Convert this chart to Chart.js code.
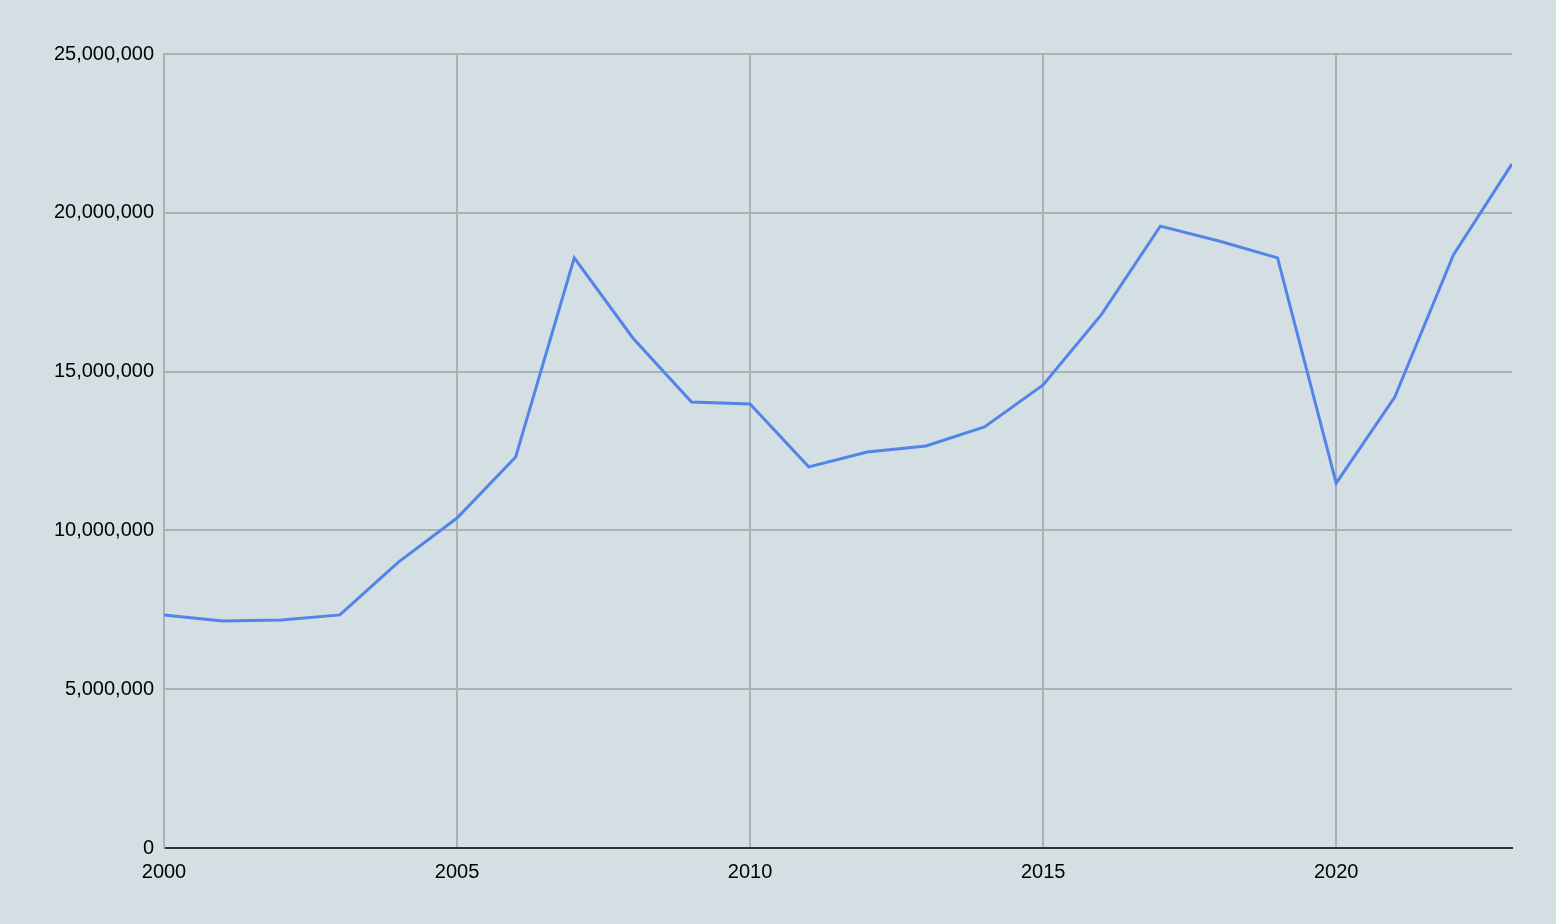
<!DOCTYPE html>
<html>
<head>
<meta charset="utf-8">
<script src="https://cdn.jsdelivr.net/npm/chart.js@4"></script>
<style>
  html, body { margin: 0; padding: 0; background: #d4dfe3; }
  #wrap { width: 1556px; height: 924px; }
</style>
</head>
<body>
<div id="wrap"><canvas id="chart"></canvas></div>
<script>
// Values
const years = [2000, 2001, 2002, 2003, 2004, 2005, 2006, 2007, 2008, 2009, 2010, 2011,
               2012, 2013, 2014, 2015, 2016, 2017, 2018, 2019, 2020, 2021, 2022, 2023];
const values = [7340000, 7150000, 7180000, 7340000, 9000000, 10390000, 12310000, 18580000,
                16060000, 14040000, 13980000, 12000000, 12470000, 12660000, 13260000, 14580000,
                16810000, 19580000, 19110000, 18580000, 11490000, 14200000, 18670000, 21540000];

const gridColor = '#a9b3b3';
const font = { family: 'Liberation Sans, Arial, sans-serif', size: 20 };

new Chart(document.getElementById('chart'), {
    type: 'line',
    data: {
        datasets: [{
            data: years.map((y, i) => ({ x: y, y: values[i] })),
            borderColor: '#5384e8',
            borderWidth: 3,
            pointRadius: 0,
            tension: 0,
            fill: false
        }]
    },
    options: {
        responsive: true,
        maintainAspectRatio: false,
        animation: false,
        layout: { padding: { left: 0, right: 44, top: 54, bottom: 46 } },
        plugins: { legend: { display: false }, tooltip: { enabled: false } },
        scales: {
            x: {
                type: 'linear',
                min: 2000,
                max: 2023,
                afterBuildTicks: a => { a.ticks = a.ticks.filter(t => t.value % 5 === 0); },
                ticks: { stepSize: 5, color: '#000', font: font, padding: 12,
                         callback: v => String(v) },
                grid: { color: gridColor, lineWidth: 2, drawTicks: false },
                border: { color: '#333', width: 2 },
                afterFit: a => { a.height = 30; }
            },
            y: {
                min: 0,
                max: 25000000,
                ticks: { stepSize: 5000000, color: '#000', font: font, padding: 10,
                         callback: v => v.toLocaleString('en-US') },
                grid: { color: gridColor, lineWidth: 2, drawTicks: false },
                border: { color: gridColor, width: 2 },
                afterFit: a => { a.width = 164; }
            }
        }
    }
});
</script>
</body>
</html>
